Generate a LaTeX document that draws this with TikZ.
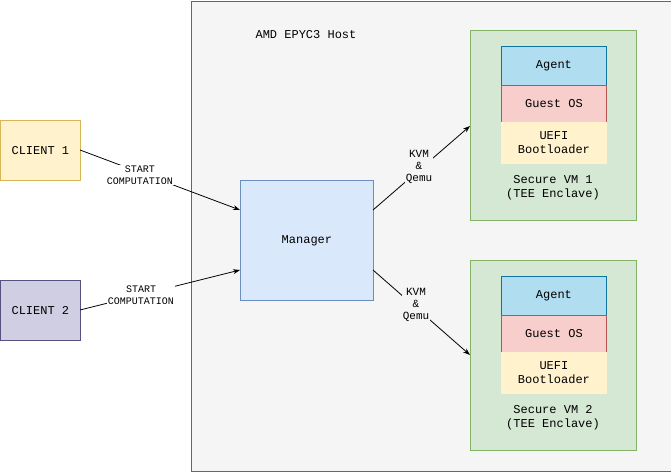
\documentclass[tikz,border=0pt]{standalone}
\usepackage{fontspec}
\setmainfont{Liberation Mono}
\usetikzlibrary{arrows.meta}
\definecolor{hostf}{HTML}{F5F5F5}\definecolor{hostd}{HTML}{666666}
\definecolor{yf}{HTML}{FFF2CC}\definecolor{yd}{HTML}{D6B656}
\definecolor{pf}{HTML}{D0CEE2}\definecolor{pd}{HTML}{56517E}
\definecolor{bf}{HTML}{DAE8FC}\definecolor{bd}{HTML}{6C8EBF}
\definecolor{gf}{HTML}{D5E8D4}\definecolor{gd}{HTML}{82B366}
\definecolor{af}{HTML}{B1DDF0}\definecolor{ad}{HTML}{10739E}
\definecolor{rf}{HTML}{F8CECC}\definecolor{rd}{HTML}{B85450}
\begin{document}
\begin{tikzpicture}[x=1pt,y=-1pt,
  box/.style={draw,line width=0.8pt,inner sep=0,font=\fontsize{12}{14}\selectfont},
  lbl/.style={font=\fontsize{10}{12}\selectfont,align=center,inner sep=1pt},
  arr/.style={-{Stealth[length=7pt,width=5pt]},line width=0.8pt}]
\useasboundingbox (0,0) rectangle (671,471);
\node[box,fill=hostf,draw=hostd,minimum width=480,minimum height=470,anchor=north west] (host) at (190.5,0.5) {};
\node[font=\fontsize{12}{14}\selectfont] (htitle) at (306,35) {AMD EPYC3 Host};
\node[box,fill=yf,draw=yd,minimum width=80,minimum height=60,anchor=north west] (c1) at (0,120) {CLIENT 1};
\node[box,fill=pf,draw=pd,minimum width=80,minimum height=60,anchor=north west] (c2) at (0,280) {CLIENT 2};
\node[box,fill=bf,draw=bd,minimum width=133,minimum height=120,anchor=north west] (mgr) at (240,180) {Manager};
\foreach \i/\y in {1/30,2/260}{
  \node[box,fill=gf,draw=gd,minimum width=166,minimum height=190,anchor=north west] (vm\i) at (470,\y) {};
  \node[box,fill=af,draw=ad,minimum width=105,minimum height=39,anchor=north west] (ag\i) at (501,\y+16) {Agent};
  \node[box,fill=rf,draw=rd,minimum width=105,minimum height=37,anchor=north west] (os\i) at (501,\y+55) {Guest OS};
  \node[box,fill=yf,draw=yf,minimum width=105,minimum height=41,anchor=north west,align=center] (ue\i) at (501,\y+92) {UEFI\\Bootloader};
  \node[font=\fontsize{12}{14}\selectfont,align=center] (vt\i) at (553,\y+158) {Secure VM \i\\(TEE Enclave)};
}
\coordinate (c1e) at (80,150); \coordinate (m1) at (240,210);
\coordinate (c2e) at (80,310); \coordinate (m2) at (240,270);
\coordinate (m3) at (373,210); \coordinate (v1) at (470,126);
\coordinate (m4) at (373,270); \coordinate (v2) at (470,355);
\draw[arr] (c1e) -- (m1);
\draw[arr] (c2e) -- (m2);
\draw[arr] (m3) -- (v1);
\draw[arr] (m4) -- (v2);
\node[lbl,fill=white] (l1) at (140,175) {START\\COMPUTATION};
\node[lbl,fill=white] (l2) at (141,295) {START\\COMPUTATION};
\node[lbl,fill=hostf,font=\fontsize{11}{12}\selectfont] (l3) at (419,167) {KVM\\\&\\Qemu};
\node[lbl,fill=hostf,font=\fontsize{11}{12}\selectfont] (l4) at (416,305) {KVM\\\&\\Qemu};
\end{tikzpicture}
\end{document}
